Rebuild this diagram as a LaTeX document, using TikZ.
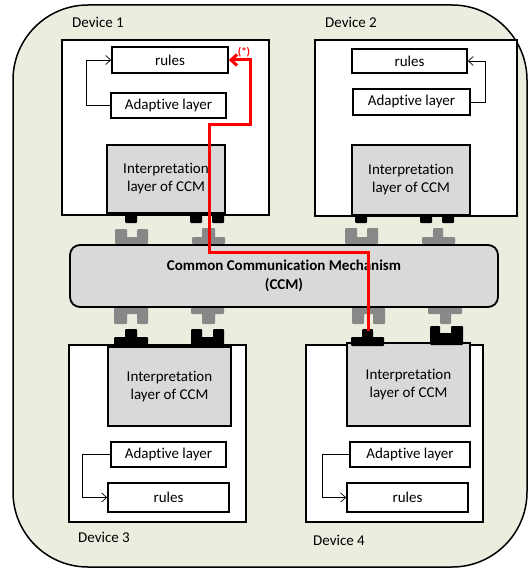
\documentclass[tikz,border=0pt]{standalone}
\usepackage{fontspec}
\setmainfont{Carlito}[Ligatures=NoCommon]
\usepackage{tikz}
\usetikzlibrary{arrows.meta, positioning}

\definecolor{bgpanel}{RGB}{234,238,222}
\definecolor{layergray}{RGB}{217,217,217}
\definecolor{pluggray}{RGB}{136,136,136}

\tikzset{
  device/.style={draw, line width=1.8pt, fill=white, minimum width=#1},
  box/.style={draw, line width=1.6pt, fill=white, inner sep=0pt},
  interp/.style={draw, line width=1.6pt, fill=layergray, align=center, inner sep=0pt},
  ccmbox/.style={draw, line width=1.8pt, fill=layergray, rounded corners=10pt, align=center, font=\fontsize{15}{19}\selectfont\bfseries},
  devlabel/.style={anchor=west, inner sep=0pt},
  feedback/.style={line width=0.7pt, -{Straight Barb[length=5pt,width=9pt]}},
  redlink/.style={draw=red, line width=3pt, -{Straight Barb[length=6pt,width=11pt]}},
  plug/.style={fill=pluggray, rounded corners=1pt},
  socket/.style={fill=black, rounded corners=1pt}
}

\begin{document}
\begin{tikzpicture}[x=1pt, y=-1pt, font=\fontsize{15}{18}\selectfont]
        \useasboundingbox (0,0) rectangle (528,569);
        % Background panel
        \filldraw[fill=bgpanel, line width=1.5pt, rounded corners=75pt] (13,5) rectangle (527,567);

        % Define the devices
        \node[device=207pt, minimum height=175pt] (dev1) at (165.5,127.5) {};
        \node[device=202pt, minimum height=176pt] (dev2) at (416,128) {};
        \node[device=177pt, minimum height=177pt] (dev3) at (157.5,433.5) {};
        \node[device=177pt, minimum height=177pt] (dev4) at (394.5,433.5) {};
        \node[devlabel] (lab1) at (72,22) {Device 1};
        \node[devlabel] (lab2) at (325,22) {Device 2};
        \node[devlabel] (lab3) at (78,537) {Device 3};
        \node[devlabel] (lab4) at (313,540) {Device 4};

        % Define the layers inside the devices
        \node[box, minimum width=116pt, minimum height=26pt] (rules1) at (170,60) {rules};
        \node[box, minimum width=115pt, minimum height=25pt] (adapt1) at (168.5,105.5) {Adaptive layer};
        \node[interp, minimum width=118pt, minimum height=68pt] (inter1) at (166,179) {Interpretation\\layer of CCM};

        \node[box, minimum width=115pt, minimum height=24pt] (rules2) at (409.5,61) {rules};
        \node[box, minimum width=117pt, minimum height=26pt] (adapt2) at (411.5,102) {Adaptive layer};
        \node[interp, minimum width=118pt, minimum height=70pt] (inter2) at (411,180) {Interpretation\\layer of CCM};

        \node[interp, minimum width=123pt, minimum height=79pt] (inter3) at (169.5,386.5) {Interpretation\\layer of CCM};
        \node[box, minimum width=115pt, minimum height=25pt] (adapt3) at (168.5,454.5) {Adaptive layer};
        \node[box, minimum width=121pt, minimum height=29pt] (rules3) at (168.5,497.5) {rules};

        \node[interp, minimum width=123pt, minimum height=83pt] (inter4) at (408.5,384.5) {Interpretation\\layer of CCM};
        \node[box, minimum width=120pt, minimum height=25pt] (adapt4) at (410,454.5) {Adaptive layer};
        \node[box, minimum width=121pt, minimum height=29pt] (rules4) at (407.5,497.5) {rules};

        % Feedback from adaptive layer to rules
        \draw[feedback] (adapt1.west) -- ++(-24,0) |- (rules1.west);
        \draw[feedback] (adapt2.east) -- ++(15,0) |- (rules2.east);
        \draw[feedback] (adapt3.west) -- ++(-28,0) |- (rules3.west);
        \draw[feedback] (adapt4.west) -- ++(-27,0) |- (rules4.west);

        % Plugs of the devices
        \fill[socket] (125,215) rectangle (137,223);
        \fill[socket] (190,215) rectangle (202,223);
        \fill[socket] (212,215) rectangle (224,223);
        \fill[socket] (355,215) rectangle (367,223);
        \fill[socket] (420,215) rectangle (432,223);
        \fill[socket] (442,215) rectangle (454,223);
        \fill[socket] (125,329) rectangle (137,339) (114,337) rectangle (148,345);
        \fill[socket] (191,329) rectangle (202,339) (213,329) rectangle (224,339) (191,337) rectangle (224,345);
        \fill[socket] (362,329) rectangle (373,339) (351,337) rectangle (384,346);
        \fill[socket] (430,326) rectangle (440,335) (451,326) rectangle (463,335) (430,333) rectangle (463,345);

        % Plugs of the CCM
        \fill[plug] (115,229) rectangle (127,239) (137,229) rectangle (148,239) (115,237) rectangle (148,244);
        \fill[plug] (202,228) rectangle (215,239) (192,237) rectangle (225,244);
        \fill[plug] (345,228) rectangle (357,239) (367,228) rectangle (378,239) (345,237) rectangle (378,244);
        \fill[plug] (433,228) rectangle (443,239) (422,237) rectangle (455,244);
        \fill[plug] (114,306) rectangle (148,314) (114,312) rectangle (127,324) (137,312) rectangle (148,324);
        \fill[plug] (191,306) rectangle (224,314) (202,312) rectangle (215,324);
        \fill[plug] (352,306) rectangle (385,314) (352,312) rectangle (364,324) (373,312) rectangle (385,324);
        \fill[plug] (428,306) rectangle (462,314) (440,312) rectangle (451,324);

        % Common communication mechanism
        \node[ccmbox, minimum width=428pt, minimum height=62pt] (ccm) at (284,276) {Common Communication Mechanism\\(CCM)};

        % Path of a rule change
        \coordinate (start4) at (368,331);
        \draw[redlink] (start4) -- (368,252) -- (209,252) -- (209,125) -- (250,125) -- (250,60) -- (rules1.east);
        \node[text=red, font=\fontsize{11}{12}\selectfont\bfseries, inner sep=0pt] (star) at (244,52) {(*)};

    \end{tikzpicture}
\end{document}
